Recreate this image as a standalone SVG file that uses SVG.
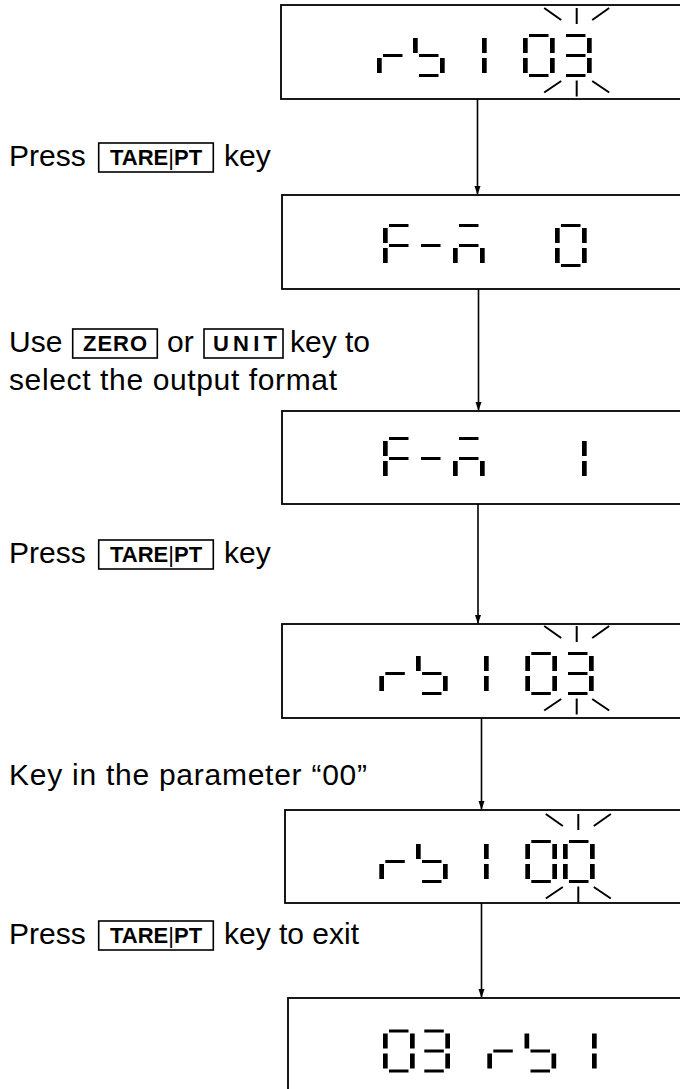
<svg xmlns="http://www.w3.org/2000/svg" xmlns:xlink="http://www.w3.org/1999/xlink" width="680" height="1089" viewBox="0 0 680 1089">
<style>
.box{fill:#fff;stroke:#000;stroke-width:1.8}
.kbox{fill:none;stroke:#000;stroke-width:1.6}
.t{font-family:"Liberation Sans",Arial,sans-serif;font-size:30px;fill:#000}
.k{font-family:"Liberation Sans",Arial,sans-serif;font-size:22px;font-weight:bold;fill:#000}
.kd{font-weight:normal}
.seg{fill:#000}
.sp{stroke:#000;stroke-width:2;fill:none}
.con{stroke:#000;stroke-width:1.6;fill:none}
.ah{fill:#000}
</style>
<defs>
<rect id="sh" class="seg" width="19.5" height="3"/>
<rect id="sv" class="seg" width="4.7" height="15"/>
<g id="sa"><use xlink:href="#sh" x="6" y="0"/></g>
<g id="sf"><use xlink:href="#sv" x="0" y="4"/></g>
<g id="sb"><use xlink:href="#sv" x="27" y="4"/></g>
<g id="sg"><use xlink:href="#sh" x="6" y="20"/></g>
<g id="se"><use xlink:href="#sv" x="0" y="24"/></g>
<g id="sc"><use xlink:href="#sv" x="27" y="24"/></g>
<g id="sd"><use xlink:href="#sh" x="6" y="40"/></g>
<g id="d0"><use xlink:href="#sa"/><use xlink:href="#sb"/><use xlink:href="#sc"/><use xlink:href="#sd"/><use xlink:href="#se"/><use xlink:href="#sf"/></g>
<g id="d1"><use xlink:href="#sb"/><use xlink:href="#sc"/></g>
<g id="d3"><use xlink:href="#sa"/><use xlink:href="#sb"/><use xlink:href="#sg"/><use xlink:href="#sc"/><use xlink:href="#sd"/></g>
<g id="dr"><use xlink:href="#se"/><use xlink:href="#sg"/></g>
<g id="db"><use xlink:href="#sf"/><use xlink:href="#sg"/><use xlink:href="#sc"/><use xlink:href="#sd"/></g>
<g id="dF"><use xlink:href="#sa"/><use xlink:href="#sf"/><use xlink:href="#sg"/><use xlink:href="#se"/></g>
<g id="dm"><use xlink:href="#sg"/></g>
<g id="dn"><use xlink:href="#sa"/><use xlink:href="#sg"/><use xlink:href="#se"/><use xlink:href="#sc"/></g>
<g id="spark" class="sp">
<line x1="0" y1="-26" x2="0" y2="-10"/>
<line x1="-32.5" y1="-26" x2="-15.5" y2="-14"/>
<line x1="32.5" y1="-26" x2="15.5" y2="-14"/>
<line x1="0" y1="46.5" x2="0" y2="62.5"/>
<line x1="-32.5" y1="58.5" x2="-15.5" y2="47"/>
<line x1="32.5" y1="58.5" x2="15.5" y2="47"/>
</g>
</defs>
<rect width="680" height="1089" fill="#fff"/>

<g id="connectors">
<line class="con" x1="477.5" y1="99" x2="477.5" y2="194"/>
<path class="ah" d="M474.5,186 L480.5,186 L477.5,195 Z"/>
<line class="con" x1="478.5" y1="289" x2="478.5" y2="410"/>
<path class="ah" d="M475.5,402 L481.5,402 L478.5,411 Z"/>
<line class="con" x1="478" y1="504" x2="478" y2="623"/>
<path class="ah" d="M475,615 L481,615 L478,624 Z"/>
<line class="con" x1="481.5" y1="718" x2="481.5" y2="809"/>
<path class="ah" d="M478.5,801 L484.5,801 L481.5,810 Z"/>
<line class="con" x1="481.5" y1="903" x2="481.5" y2="997"/>
<path class="ah" d="M478.5,989 L484.5,989 L481.5,998 Z"/>
</g>

<g id="display1">
<rect class="box" x="281" y="5" width="430" height="94"/>
<use xlink:href="#dr" x="377" y="34"/>
<use xlink:href="#db" x="413" y="34"/>
<use xlink:href="#d1" x="455" y="34"/>
<use xlink:href="#d0" x="523" y="34"/>
<use xlink:href="#d3" x="560" y="34"/>
<use xlink:href="#spark" x="576.7" y="34"/>
</g>

<g id="step1">
<text class="t" x="9" y="166">Press</text>
<rect class="kbox" x="98.7" y="143" width="114.6" height="29"/>
<text class="k" x="110" y="165">TARE<tspan class="kd">|</tspan>PT</text>
<text class="t" x="224" y="166">key</text>
</g>

<g id="display2">
<rect class="box" x="282" y="195" width="430" height="94"/>
<use xlink:href="#dF" x="383" y="224"/>
<use xlink:href="#dm" x="415" y="224"/>
<use xlink:href="#dn" x="453" y="224"/>
<use xlink:href="#d0" x="555" y="224"/>
</g>

<g id="step2">
<text class="t" x="9" y="352">Use</text>
<rect class="kbox" x="72.7" y="329" width="84.6" height="29"/>
<text class="k" x="83" y="351" textLength="64" lengthAdjust="spacing">ZERO</text>
<text class="t" x="167" y="352">or</text>
<rect class="kbox" x="204" y="329" width="79" height="29"/>
<text class="k" x="213" y="351" textLength="64" lengthAdjust="spacing">UNIT</text>
<text class="t" x="290" y="352">key to</text>
<text class="t" x="9" y="390" textLength="328" lengthAdjust="spacing">select the output format</text>
</g>

<g id="display3">
<rect class="box" x="282" y="411" width="430" height="93"/>
<use xlink:href="#dF" x="383" y="437"/>
<use xlink:href="#dm" x="415" y="437"/>
<use xlink:href="#dn" x="453" y="437"/>
<use xlink:href="#d1" x="555" y="437"/>
</g>

<g id="step3">
<text class="t" x="9" y="563">Press</text>
<rect class="kbox" x="98.7" y="540" width="114.6" height="29"/>
<text class="k" x="110" y="562">TARE<tspan class="kd">|</tspan>PT</text>
<text class="t" x="224" y="563">key</text>
</g>

<g id="display4">
<rect class="box" x="282" y="624" width="430" height="94"/>
<use xlink:href="#dr" x="379.3" y="652"/>
<use xlink:href="#db" x="416" y="652"/>
<use xlink:href="#d1" x="457" y="652"/>
<use xlink:href="#d0" x="525.3" y="652"/>
<use xlink:href="#d3" x="562" y="652"/>
<use xlink:href="#spark" x="576.7" y="652"/>
</g>

<g id="step4">
<text class="t" x="9" y="785" textLength="358" lengthAdjust="spacing">Key in the parameter “00”</text>
</g>

<g id="display5">
<rect class="box" x="285" y="810" width="430" height="93"/>
<use xlink:href="#dr" x="379.3" y="840"/>
<use xlink:href="#db" x="416" y="840"/>
<use xlink:href="#d1" x="457" y="840"/>
<use xlink:href="#d0" x="525.3" y="840"/>
<use xlink:href="#d0" x="563" y="840"/>
<use xlink:href="#spark" x="578.3" y="840"/>
</g>

<g id="step5">
<text class="t" x="9" y="944">Press</text>
<rect class="kbox" x="98.7" y="921" width="114.6" height="29"/>
<text class="k" x="110" y="943">TARE<tspan class="kd">|</tspan>PT</text>
<text class="t" x="224" y="944">key to exit</text>
</g>

<g id="display6">
<rect class="box" x="288" y="998" width="430" height="120"/>
<use xlink:href="#d0" x="383" y="1029.5"/>
<use xlink:href="#d3" x="418.3" y="1029.5"/>
<use xlink:href="#dr" x="487.3" y="1029.5"/>
<use xlink:href="#db" x="524.5" y="1029.5"/>
<use xlink:href="#d1" x="565" y="1029.5"/>
</g>
</svg>
